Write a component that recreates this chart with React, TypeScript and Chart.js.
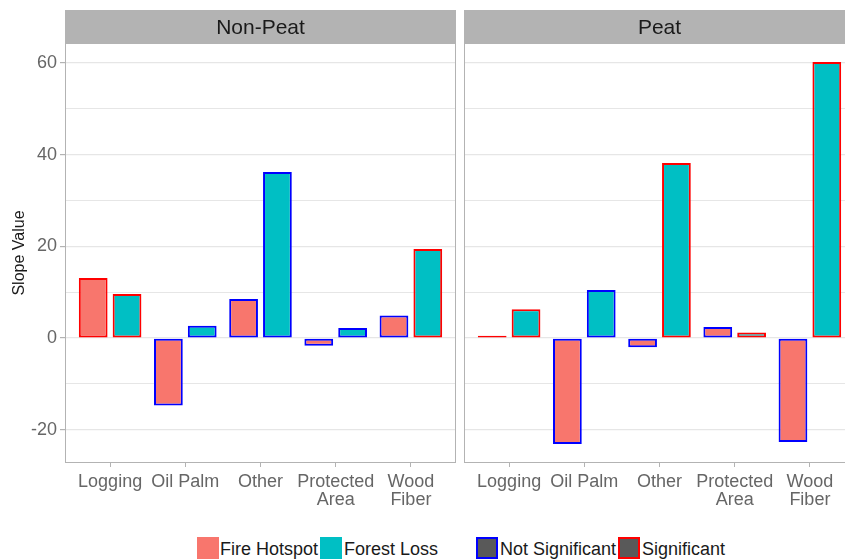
import React, { useEffect, useRef } from "react";
import { Chart, registerables } from "chart.js";
Chart.register(...registerables);

const categories: string[][] = [["Logging"], ["Oil Palm"], ["Other"], ["Protected", "Area"], ["Wood", "Fiber"]];
const panelTitles = ["Non-Peat", "Peat"];
const nonPeatFire = [13.1, -14.7, 8.5, -1.7, 4.9];
const nonPeatForest = [9.6, 2.7, 36.2, 2.2, 19.4];
const nonPeatFireSig = [true, false, false, false, false];
const nonPeatForestSig = [true, false, false, false, true];
const peatFire = [0.5, -23.1, -2.0, 2.4, -22.7];
const peatForest = [6.3, 10.5, 38.2, 1.2, 60.2];
const peatFireSig = [true, false, false, false, false];
const peatForestSig = [true, false, true, true, true];
const yMajorTicks = [-20, 0, 20, 40, 60];
const yMin = -27.26;
const yMax = 64.36;
const seriesNames = ["Fire Hotspot", "Forest Loss"];
const sigNames = ["Not Significant", "Significant"];

const FIRE = "#F8766D";
const FOREST = "#00BFC4";
const SIG = "#FF0000";
const NOTSIG = "#0000FF";
const FONT = "'Liberation Sans', Arial, sans-serif";

const stripPlugin = (title: string) => ({
  id: "strip" + title.replace(/[^A-Za-z]/g, ""),
  beforeDraw(chart: any) {
    const { ctx, chartArea } = chart;
    ctx.save();
    ctx.fillStyle = "#B3B3B3";
    ctx.fillRect(chartArea.left, 10, chartArea.right - chartArea.left, chartArea.top - 10);
    ctx.fillStyle = "#1A1A1A";
    ctx.font = "21px " + FONT;
    ctx.textAlign = "center";
    ctx.textBaseline = "middle";
    ctx.fillText(title, (chartArea.left + chartArea.right) / 2, (10 + chartArea.top) / 2 + 2);
    ctx.restore();
  },
  afterDatasetsDraw(chart: any) {
    const { ctx, chartArea } = chart;
    ctx.save();
    ctx.strokeStyle = "#B3B3B3";
    ctx.lineWidth = 1;
    ctx.strokeRect(chartArea.left + 0.5, chartArea.top + 0.5, chartArea.right - chartArea.left - 1, chartArea.bottom - chartArea.top - 1);
    ctx.restore();
  },
});

function Panel(props: { title: string; fire: number[]; forest: number[]; fireSig: boolean[]; forestSig: boolean[]; showY: boolean; width: number; left: number; padRight: number }) {
  const ref = useRef<HTMLCanvasElement>(null);
  useEffect(() => {
    if (!ref.current) return;
    const { fire, forest, fireSig, forestSig, showY } = props;
    const chart = new Chart(ref.current, {
      type: "bar",
      data: {
        datasets: [
          {
            label: seriesNames[0],
            data: fire.map((v, i) => ({ x: i, y: v })),
            backgroundColor: FIRE,
            borderColor: fireSig.map((s) => (s ? SIG : NOTSIG)),
            borderWidth: 2,
            borderSkipped: false,
            categoryPercentage: 0.9,
            barPercentage: 0.85,
          },
          {
            label: seriesNames[1],
            data: forest.map((v, i) => ({ x: i, y: v })),
            backgroundColor: FOREST,
            borderColor: forestSig.map((s) => (s ? SIG : NOTSIG)),
            borderWidth: 2,
            borderSkipped: false,
            categoryPercentage: 0.9,
            barPercentage: 0.85,
          },
        ],
      } as any,
      options: {
        animation: false,
        responsive: false,
        devicePixelRatio: 1,
        layout: { padding: { top: 43, right: props.padRight, left: 0, bottom: 0 } },
        plugins: { legend: { display: false }, tooltip: { enabled: false } },
        scales: {
          x: {
            type: "linear",
            min: -0.6,
            max: 4.6,
            offset: false,
            afterBuildTicks: (s: any) => {
              s.ticks = categories.map((_, i) => ({ value: i }));
            },
            afterFit: (s: any) => {
              s.height = 67;
            },
            ticks: {
              callback: (v: any) => categories[Math.round(v)] ?? "",
              color: "#666666",
              font: { family: FONT, size: 18, lineHeight: 1.0 },
              padding: 6,
              maxRotation: 0,
              autoSkip: false,
            },
            grid: { offset: false, drawOnChartArea: false, drawTicks: true, tickLength: 4, color: "#B3B3B3" },
            border: { display: false },
          },
          y: {
            min: yMin,
            max: yMax,
            afterBuildTicks: (s: any) => {
              const t: any[] = [];
              for (let v = -20; v <= 60; v += 10) t.push({ value: v });
              s.ticks = t;
            },
            afterFit: (s: any) => {
              s.width = showY ? 65 : 0;
            },
            ticks: {
              display: showY,
              callback: (v: any) => (yMajorTicks.includes(v) ? String(v) : ""),
              color: "#666666",
              font: { family: FONT, size: 18 },
              padding: 3,
            },
            grid: {
              color: "#E6E6E6",
              lineWidth: (c: any) => (c.tick && c.tick.value % 20 === 0 ? 1.2 : 1),
              drawTicks: showY,
              tickLength: 5,
              tickColor: (c: any) => (c.tick && c.tick.value % 20 === 0 ? "#B3B3B3" : "rgba(0,0,0,0)"),
            },
            border: { display: false },
            title: {
              display: showY,
              text: "Slope Value",
              color: "#1A1A1A",
              font: { family: FONT, size: 16 },
              padding: { top: 10, bottom: 0 },
            },
          },
        },
      } as any,
      plugins: [stripPlugin(props.title)],
    });
    return () => chart.destroy();
  }, []);
  return (
    <canvas
      ref={ref}
      width={props.width}
      height={530}
      style={{ position: "absolute", left: props.left, top: 0, width: props.width, height: 530 }}
    />
  );
}

function LegendKey(props: { left: number; fill: string; border: string; text: string; textLeft: number }) {
  return (
    <>
      <div
        style={{
          position: "absolute",
          left: props.left,
          top: 537,
          width: 22,
          height: 22,
          boxSizing: "border-box",
          background: props.fill,
          border: props.border === "none" ? "none" : "2px solid " + props.border,
        }}
      />
      <div
        style={{
          position: "absolute",
          left: props.textLeft,
          top: 538,
          fontFamily: FONT,
          fontSize: 18,
          lineHeight: "22px",
          color: "#1A1A1A",
          whiteSpace: "nowrap",
        }}
      >
        {props.text}
      </div>
    </>
  );
}

export default function App() {
  return (
    <div style={{ position: "fixed", left: 0, top: 0, width: 845, height: 560, overflow: "hidden", background: "#FFFFFF" }}>
      <Panel title={panelTitles[0]} fire={nonPeatFire} forest={nonPeatForest} fireSig={nonPeatFireSig} forestSig={nonPeatForestSig} showY={true} width={458} left={0} padRight={2} />
      <Panel title={panelTitles[1]} fire={peatFire} forest={peatForest} fireSig={peatFireSig} forestSig={peatForestSig} showY={false} width={391} left={464} padRight={0} />
      <LegendKey left={197} fill={FIRE} border="none" text={seriesNames[0]} textLeft={220} />
      <LegendKey left={320} fill={FOREST} border="none" text={seriesNames[1]} textLeft={344} />
      <LegendKey left={476} fill="#595959" border={NOTSIG} text={sigNames[0]} textLeft={500} />
      <LegendKey left={618} fill="#595959" border={SIG} text={sigNames[1]} textLeft={642} />
    </div>
  );
}
